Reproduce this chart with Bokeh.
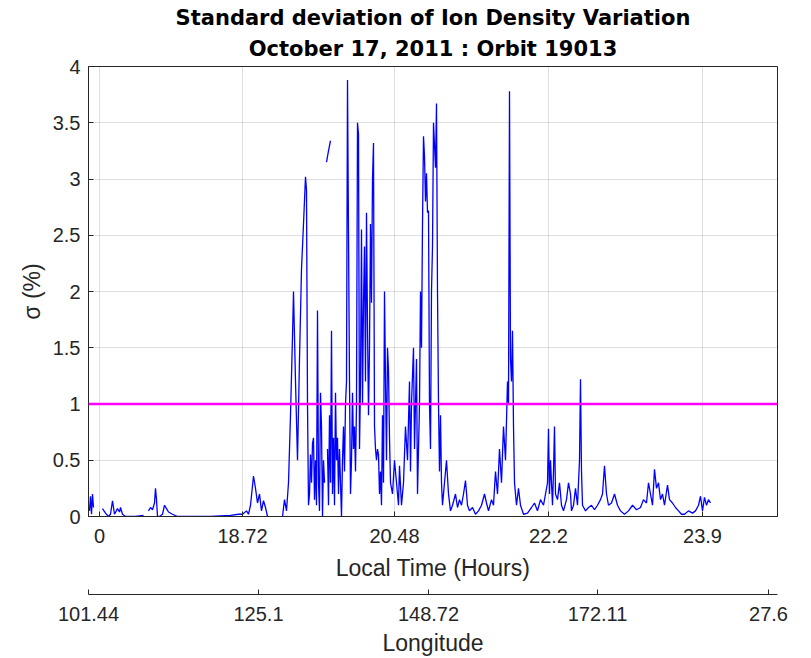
import math
from bokeh.plotting import figure
from bokeh.models import FixedTicker, LinearAxis, Title, Range1d, Span
from bokeh.embed import file_html
from bokeh.resources import INLINE

NAN = float("nan")

TITLE_LINE1 = "Standard deviation of Ion Density Variation"
TITLE_LINE2 = "October 17, 2011 : Orbit 19013"
X_LABEL = "Local Time (Hours)"
LON_LABEL = "Longitude"
Y_LABEL = "σ (%)"

# sample index along the orbit segment
SAMPLE = [
    1, 2, 3, 4, 5, NAN,
    14, 17, 20, 22, 24, 26, 29, 31, 32, 34, 37, 47, 55, NAN,
    60, 62, 64, 66, 67, 68, 69, 71, 74, 76, 78, 80, 84, 89, 102, 122, 142, 150, 154,
    158, 160, 162, 165, 167, 169, 171, 173, 175, 177, 179, NAN,
    194, 196, 198, 200, 202, 204, 205, 207, 209, 211, 213, 215, 217, 218, 219, 220,
    221, 222, 223, 224, 225, 226, 227, 228, 229, 230, 231, 232, 233, 234, 235, 236, NAN,
    238, 240, 242, NAN,
    239, 240, 241, 242, 243, 244, 245, 246, 247, 248, 249, 250, 251, 252, 253, 254,
    255, 256, 257, 258, 259, 260, 261, 262, 263, 264, 265, 266, 267, 268, 269, 270,
    271, 272, 273, 274, 275, 276, 277, 278, 279, 280, 281, 282, 283, 284, 285, 286,
    287, 288, 289, 290, 291, 292, 293, 294, 295, 296, 297, 298, 299, 300, 301, 302,
    304, 306, 308, 310, 311, 313, 315, 317, 319, 321, 322, 323, 325, 326, 328, 329,
    331, 332, 333, 334, 335, 336, 337, 338, 339, 340, 341, 342, 343, 344, 345, 346,
    347, 348, 349, 350, 351, 352, 353, 354, 356, 358, 360, 362, 364, 367, 369, 371,
    373, 375, 377, 379, 381, 384, 387, 390, 393, 396, 398, 400, 403, 405, 407, 409,
    411, 413, 415, 417, 419, 420, 421, 422, 423, 424, 425, 426, 428, 430, 432, 435,
    439, 443, 446, 449, 452, 455, 457, 459, 460, 461, 462, 464, 465, 466, 467, 469,
    471, 473, 475, 478, 480, 482, 483, 485, 487, 489, 491, 492, 493, 494, 497, 500,
    503, 506, 509, 512, 514, 516, 518, 520, 523, 526, 529, 532, 536, 540, 544, 548,
    552, 555, 558, 560, 562, 564, 566, 568, 570, 572, 574, 576, 579, 581, 584, 587,
    590, 593, 596, 600, 604, 607, 610, 612, 614, 616, 618, 620, 622,
]

# standard deviation of ion density variation (%)
SIGMA = [
    0.05, 0.18, 0.02, 0.2, 0.08, NAN,
    0.07, 0.03, 0.0, 0.02, 0.14, 0.02, 0.07, 0.04, 0.08, 0.02, 0.0, 0.0, 0.01, NAN,
    0.05, 0.08, 0.06, 0.12, 0.25, 0.15, 0.0, 0.0, 0.02, 0.1, 0.07, 0.04, 0.02, 0.0, 0.0, 0.0, 0.01, 0.02, 0.02,
    0.05, 0.02, 0.1, 0.36, 0.25, 0.12, 0.2, 0.05, 0.14, 0.08, 0.0, NAN,
    0.0, 0.15, 0.05, 0.3, 0.9, 1.6, 2.0, 1.2, 0.5, 1.4, 2.2, 2.6, 3.02, 2.9, 1.0, 0.1,
    0.2, 0.55, 0.3, 0.65, 0.7, 0.15, 0.5, 0.1, 1.83, 0.3, 0.05, 1.1, 0.8, 0.0, 0.5, 0.3, NAN,
    3.15, 3.25, 3.34, NAN,
    0.6, 0.1, 0.9, 0.3, 1.65, 0.2, 0.7, 0.1, 1.1, 0.5, 0.7, 0.2, 0.6, 0.3, 0.0, 0.5,
    0.8, 0.4, 1.0, 1.2, 3.88, 2.5, 1.2, 0.2, 0.5, 1.1, 0.6, 0.8, 0.4, 1.0, 3.5, 3.4,
    0.6, 1.2, 2.55, 1.0, 1.9, 2.4, 1.2, 2.7, 1.7, 0.9, 1.5, 2.6, 1.9, 3.0, 3.32, 0.8,
    0.6, 0.5, 0.6, 0.55, 0.2, 0.4, 0.1, 0.9, 0.3, 2.0, 1.2, 0.5, 1.5, 1.3, 0.7, 0.3,
    0.2, 0.5, 0.3, 0.1, 0.45, 0.1, 0.3, 0.8, 0.5, 1.2, 0.4, 1.0, 1.5, 0.6, 1.4, 0.2,
    1.0, 2.0, 1.5, 2.6, 3.38, 3.2, 2.8, 3.05, 2.7, 2.72, 1.0, 0.6, 2.0, 2.4, 3.5, 3.3,
    3.1, 3.67, 2.0, 1.0, 0.4, 0.9, 0.3, 0.1, 0.3, 0.5, 0.2, 0.05, 0.1, 0.2, 0.08, 0.15,
    0.1, 0.2, 0.32, 0.1, 0.05, 0.08, 0.02, 0.05, 0.1, 0.2, 0.12, 0.05, 0.15, 0.1, 0.4, 0.2,
    0.6, 0.3, 0.8, 0.5, 1.2, 1.0, 3.78, 1.4, 1.2, 1.65, 0.8, 0.3, 0.1, 0.25, 0.1, 0.02,
    0.03, 0.08, 0.12, 0.05, 0.15, 0.1, 0.2, 0.3, 0.78, 0.2, 0.5, 0.1, 0.4, 0.8, 0.2, 0.15,
    0.3, 0.1, 0.05, 0.15, 0.3, 0.2, 0.05, 0.1, 0.25, 0.1, 0.5, 1.22, 0.4, 0.1, 0.05, 0.08,
    0.1, 0.06, 0.1, 0.15, 0.2, 0.45, 0.2, 0.1, 0.12, 0.2, 0.1, 0.05, 0.02, 0.05, 0.1, 0.06,
    0.08, 0.15, 0.12, 0.3, 0.2, 0.1, 0.42, 0.25, 0.3, 0.15, 0.2, 0.1, 0.28, 0.15, 0.12, 0.08,
    0.05, 0.02, 0.02, 0.05, 0.03, 0.05, 0.1, 0.18, 0.05, 0.17, 0.1, 0.15, 0.12,
]

THRESHOLD = 1.0

X_TICKS = [11, 154, 306, 460, 614]
X_TICK_LABELS = ["0", "18.72", "20.48", "22.2", "23.9"]
LON_TICKS = [0, 170, 340, 509, 680]
LON_TICK_LABELS = ["101.44", "125.1", "148.72", "172.11", "27.6"]
Y_TICKS = [0, 0.5, 1, 1.5, 2, 2.5, 3, 3.5, 4]
Y_TICK_LABELS = ["0", "0.5", "1", "1.5", "2", "2.5", "3", "3.5", "4"]
X_MIN, X_MAX = 0, 689
Y_MIN, Y_MAX = 0, 4

TXT = "#262626"
TICK_FONT = "Liberation Sans"

p = figure(width=811, height=658, output_backend="svg", toolbar_location=None,
           x_range=Range1d(X_MIN, X_MAX), y_range=Range1d(Y_MIN, Y_MAX),
           min_border_left=88, min_border_right=34, min_border_top=66,
           min_border_bottom=142, title=None)
p.background_fill_color = "white"
p.border_fill_color = "white"
p.outline_line_color = TXT
p.outline_line_width = 1

p.line(SAMPLE, SIGMA, line_color="#0000ff", line_width=1.3)
p.add_layout(Span(location=THRESHOLD, dimension="width", line_color="#ff00ff", line_width=2.5))

xt = FixedTicker(ticks=X_TICKS)
yt = FixedTicker(ticks=Y_TICKS)

xa = p.xaxis[0]
xa.ticker = xt
xa.major_label_overrides = {t: l for t, l in zip(X_TICKS, X_TICK_LABELS)}
xa.axis_label = X_LABEL

ya = p.yaxis[0]
ya.ticker = yt
ya.major_label_overrides = {t: l for t, l in zip(Y_TICKS, Y_TICK_LABELS)}
ya.axis_label = Y_LABEL

for ax in (xa, ya):
    ax.minor_tick_line_color = None
    ax.major_tick_in = 5
    ax.major_tick_out = 0
    ax.axis_line_color = TXT
    ax.major_tick_line_color = TXT
    ax.major_label_text_font = TICK_FONT
    ax.major_label_text_font_size = "20px"
    ax.major_label_text_color = TXT
    ax.axis_label_text_font = TICK_FONT
    ax.axis_label_text_font_size = "23px"
    ax.axis_label_text_font_style = "normal"
    ax.axis_label_text_color = TXT

xa.major_label_standoff = 12
xa.axis_label_standoff = 9
ya.major_label_standoff = 8
ya.axis_label_standoff = 5

# invisible spacer between the two bottom axes
spacer = LinearAxis(ticker=FixedTicker(ticks=[X_TICKS[0]]),
                    major_label_overrides={X_TICKS[0]: ""},
                    axis_line_color=None, major_tick_line_color=None,
                    minor_tick_line_color=None, major_tick_out=11,
                    major_tick_in=0, major_label_standoff=0,
                    major_label_text_font_size="1px")
p.add_layout(spacer, "below")

lon = LinearAxis(ticker=FixedTicker(ticks=LON_TICKS),
                 major_label_overrides={t: l for t, l in zip(LON_TICKS, LON_TICK_LABELS)},
                 axis_label=LON_LABEL)
lon.minor_tick_line_color = None
lon.major_tick_in = 5
lon.major_tick_out = 0
lon.axis_line_color = TXT
lon.major_tick_line_color = TXT
lon.major_label_text_font = TICK_FONT
lon.major_label_text_font_size = "20px"
lon.major_label_text_color = TXT
lon.major_label_standoff = 12
lon.axis_label_text_font = TICK_FONT
lon.axis_label_text_font_size = "23px"
lon.axis_label_text_font_style = "normal"
lon.axis_label_text_color = TXT
lon.axis_label_standoff = 6
p.add_layout(lon, "below")

p.xgrid.ticker = xt
p.ygrid.ticker = yt
for g in (p.xgrid[0], p.ygrid[0]):
    g.grid_line_color = TXT
    g.grid_line_alpha = 0.15
    g.grid_line_width = 1

p.add_layout(Title(text=TITLE_LINE2, align="center", text_font="DejaVu Sans",
                   text_font_size="21px", text_font_style="bold", text_color="black",
                   standoff=11), "above")
p.add_layout(Title(text=TITLE_LINE1, align="center", text_font="DejaVu Sans",
                   text_font_size="21px", text_font_style="bold", text_color="black",
                   standoff=0), "above")

open("out.html", "w").write(file_html(p, INLINE))
